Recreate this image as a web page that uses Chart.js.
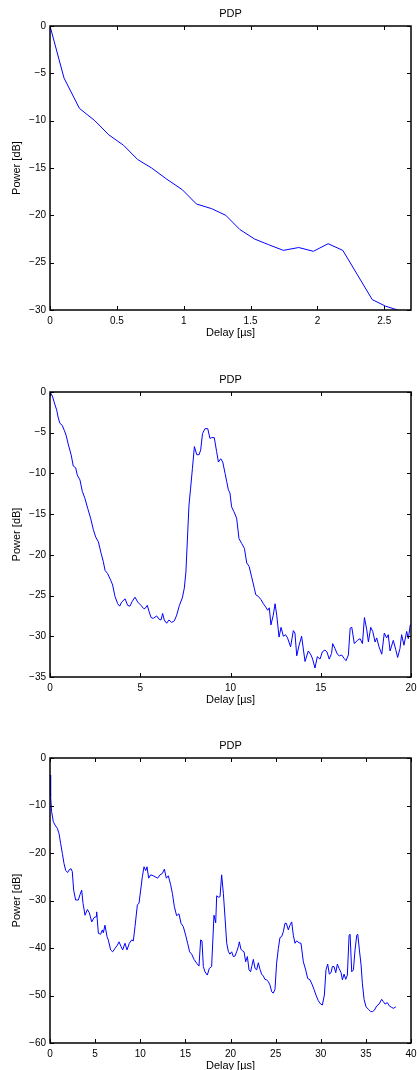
<!DOCTYPE html>
<html>
<head>
<meta charset="utf-8">
<script src="https://cdn.jsdelivr.net/npm/chart.js@4.4.0/dist/chart.umd.min.js"></script>
<style>
  body { margin: 0; background: #fff; width: 417px; height: 1070px; overflow: hidden; position: relative; }
  canvas { position: absolute; left: 0; }
</style>
</head>
<body>
<canvas id="pdp1" width="417" height="343" style="top:0px"></canvas>
<canvas id="pdp2" width="417" height="344" style="top:366px"></canvas>
<canvas id="pdp3" width="417" height="344" style="top:732px"></canvas>
<script>
// chart 1: short delay window
const delay1 = [0, 0.105, 0.22, 0.335, 0.44, 0.55, 0.655, 0.76, 0.865, 0.99, 1.095, 1.21, 1.315, 1.42, 1.53, 1.635, 1.745, 1.86, 1.97, 2.08, 2.19, 2.3, 2.41, 2.51, 2.6]
const power1 = [0, -5.5, -8.7, -10.0, -11.5, -12.6, -14.1, -15.0, -16.1, -17.3, -18.8, -19.3, -20.0, -21.5, -22.5, -23.1, -23.7, -23.4, -23.8, -23.0, -23.7, -26.3, -28.9, -29.6, -30.0]

// chart 2: 0..20 us
const delay2 = [0, 0.13, 0.28, 0.37, 0.46, 0.55, 0.68, 0.79, 0.89, 1.02, 1.17, 1.29, 1.42, 1.51, 1.66, 1.79, 1.94, 2.09, 2.25, 2.4, 2.53, 2.68, 2.83, 2.95, 3.05, 3.19, 3.36, 3.47, 3.6, 3.75, 3.86, 3.97, 4.16, 4.3, 4.43, 4.56, 4.71, 4.86, 5.04, 5.19, 5.26, 5.39, 5.48, 5.6, 5.72, 5.91, 6.04, 6.15, 6.24, 6.33, 6.46, 6.59, 6.74, 6.89, 7.02, 7.17, 7.33, 7.44, 7.53, 7.63, 7.7, 7.79, 7.89, 8.0, 8.13, 8.26, 8.35, 8.45, 8.59, 8.74, 8.86, 8.96, 9.1, 9.23, 9.33, 9.46, 9.57, 9.7, 9.79, 9.88, 9.97, 10.06, 10.19, 10.34, 10.47, 10.62, 10.77, 10.9, 11.03, 11.17, 11.32, 11.4, 11.54, 11.69, 11.82, 11.95, 12.06, 12.15, 12.24, 12.37, 12.47, 12.56, 12.69, 12.8, 12.93, 13.05, 13.16, 13.33, 13.48, 13.57, 13.67, 13.8, 13.94, 14.13, 14.31, 14.46, 14.55, 14.68, 14.81, 14.96, 15.09, 15.23, 15.34, 15.47, 15.6, 15.66, 15.79, 15.92, 16.03, 16.16, 16.29, 16.4, 16.53, 16.63, 16.72, 16.86, 17.03, 17.18, 17.31, 17.42, 17.55, 17.64, 17.77, 17.88, 18.01, 18.1, 18.23, 18.38, 18.52, 18.65, 18.74, 18.84, 19.02, 19.15, 19.26, 19.39, 19.48, 19.61, 19.76, 19.85, 19.96, 20.0]
const power2 = [0, -0.5, -1.6, -2.2, -3.2, -3.85, -4.1, -4.7, -5.3, -6.5, -7.7, -9.1, -9.3, -10.2, -10.8, -12.2, -13.1, -14.3, -15.5, -16.9, -17.8, -18.4, -19.8, -20.8, -21.9, -22.3, -23.1, -23.7, -25.1, -26.0, -26.3, -25.8, -25.4, -26.2, -26.3, -25.7, -25.2, -25.8, -26.2, -26.6, -26.6, -26.2, -26.9, -27.7, -27.8, -27.5, -27.9, -28.0, -27.2, -28.0, -28.4, -28.0, -28.3, -28.1, -27.4, -26.2, -25.3, -24.1, -22.1, -17.2, -13.9, -11.8, -9.4, -6.7, -7.7, -7.7, -7.1, -5.1, -4.5, -4.5, -5.7, -5.6, -5.6, -7.3, -8.6, -8.2, -8.6, -10.0, -11.0, -12.0, -12.4, -14.1, -14.7, -15.5, -18.0, -18.6, -19.2, -21.0, -21.4, -22.7, -24.1, -24.9, -25.1, -25.5, -26.0, -26.4, -26.8, -26.5, -28.6, -27.4, -26.0, -27.4, -30.1, -28.9, -30.0, -29.8, -30.2, -31.3, -29.3, -29.6, -32.4, -31.1, -30.0, -33.1, -31.8, -32.3, -32.8, -33.9, -32.5, -32.8, -31.9, -31.7, -31.9, -32.8, -32.1, -30.9, -31.5, -32.2, -32.4, -32.3, -32.7, -33.0, -32.3, -29.0, -28.9, -30.9, -30.5, -30.3, -30.9, -27.7, -29.2, -30.7, -28.9, -29.4, -30.7, -30.2, -31.3, -32.2, -29.6, -30.2, -29.8, -31.8, -30.5, -31.6, -32.6, -31.5, -29.8, -31.1, -29.4, -30.3, -28.6, -28.6]

// chart 3: 0..40 us
const delay3 = [0, 0.07, 0.18, 0.37, 0.55, 0.81, 1.0, 1.18, 1.37, 1.55, 1.74, 1.96, 2.1, 2.33, 2.47, 2.62, 2.84, 3.14, 3.32, 3.51, 3.66, 3.88, 4.14, 4.36, 4.62, 4.88, 5.1, 5.17, 5.36, 5.61, 5.8, 5.91, 6.09, 6.32, 6.46, 6.72, 6.94, 7.2, 7.46, 7.65, 7.87, 8.05, 8.31, 8.53, 8.79, 9.05, 9.23, 9.42, 9.68, 9.86, 10.05, 10.23, 10.42, 10.6, 10.75, 10.93, 11.15, 11.45, 11.93, 12.19, 12.45, 12.67, 12.89, 13.11, 13.37, 13.56, 13.78, 14.03, 14.29, 14.52, 14.77, 15.03, 15.25, 15.47, 15.7, 15.96, 16.25, 16.51, 16.69, 16.84, 16.99, 17.17, 17.43, 17.65, 17.91, 18.17, 18.36, 18.47, 18.65, 18.84, 19.02, 19.21, 19.39, 19.58, 19.77, 19.94, 20.13, 20.31, 20.5, 20.68, 20.87, 20.98, 21.16, 21.35, 21.5, 21.68, 21.87, 22.05, 22.23, 22.35, 22.53, 22.72, 22.9, 23.08, 23.27, 23.45, 23.64, 23.82, 24.01, 24.19, 24.38, 24.56, 24.74, 24.93, 25.11, 25.3, 25.48, 25.67, 25.85, 26.04, 26.19, 26.41, 26.59, 26.78, 26.96, 27.15, 27.33, 27.59, 27.81, 28.07, 28.33, 28.55, 28.81, 29.07, 29.25, 29.47, 29.73, 29.99, 30.18, 30.4, 30.58, 30.77, 30.95, 31.14, 31.29, 31.47, 31.66, 31.84, 32.03, 32.25, 32.4, 32.58, 32.77, 32.95, 33.14, 33.25, 33.43, 33.62, 33.8, 33.99, 34.1, 34.28, 34.47, 34.61, 34.8, 35.02, 35.28, 35.54, 35.72, 35.94, 36.2, 36.46, 36.75, 36.94, 37.13, 37.38, 37.6, 37.86, 38.05, 38.32]
const power3 = [-3.6, -8.1, -11.3, -13.4, -14.1, -14.8, -15.9, -18.0, -20.1, -22.2, -23.7, -24.1, -23.6, -23.3, -23.9, -27.8, -29.9, -29.9, -28.8, -27.8, -30.6, -33.1, -31.9, -32.6, -34.5, -33.6, -33.4, -32.4, -36.9, -37.1, -36.2, -36.8, -35.2, -37.6, -38.3, -40.4, -40.8, -40.1, -39.4, -38.7, -39.7, -40.4, -39.0, -40.4, -39.0, -38.3, -38.5, -35.5, -30.9, -30.6, -27.8, -25.0, -22.9, -23.7, -22.9, -25.3, -24.6, -24.8, -25.3, -24.6, -24.3, -23.4, -25.3, -24.8, -26.7, -28.5, -31.3, -33.2, -32.8, -34.8, -35.5, -37.3, -39.0, -40.8, -41.3, -42.4, -43.2, -43.8, -38.3, -38.5, -43.9, -45.0, -45.7, -44.3, -43.9, -33.1, -34.7, -29.0, -29.3, -29.2, -24.6, -28.5, -33.5, -39.0, -40.8, -41.3, -40.8, -41.8, -41.7, -40.8, -39.7, -38.7, -40.3, -40.6, -40.8, -42.9, -41.8, -44.6, -45.0, -43.9, -42.4, -44.3, -44.6, -43.1, -44.5, -45.5, -45.9, -46.6, -46.7, -47.1, -47.8, -49.2, -49.5, -48.7, -43.2, -40.1, -37.8, -37.6, -36.6, -34.8, -34.8, -36.2, -35.2, -34.5, -37.3, -39.0, -38.5, -38.9, -39.0, -42.9, -44.6, -46.4, -46.7, -47.8, -48.7, -49.9, -51.1, -51.8, -52.0, -49.9, -44.6, -43.4, -45.5, -45.2, -43.9, -43.9, -45.2, -43.4, -44.3, -45.2, -46.7, -45.5, -46.6, -45.7, -37.3, -37.1, -45.0, -44.6, -40.4, -37.3, -37.1, -40.4, -43.6, -47.4, -50.8, -52.4, -52.9, -53.4, -53.4, -53.1, -52.2, -51.8, -50.8, -51.3, -51.8, -51.5, -52.2, -52.5, -52.7, -52.4]

const FONT = { family: '"Liberation Sans", Helvetica, Arial, sans-serif', size: 10 }
const LABEL_FONT = { family: '"Liberation Sans", Helvetica, Arial, sans-serif', size: 11 }

function fmt(v) {
    const s = String(Math.round(Math.abs(v) * 10) / 10)
    return v < 0 ? '\u2212' + s : s
}

// matlab style box with inward ticks on all four sides
const boxPlugin = {
    id: 'matlabBox',
    afterDraw(chart) {
        const { ctx, chartArea: a, scales } = chart
        ctx.save()
        ctx.strokeStyle = '#000'
        ctx.lineWidth = 1
        ctx.beginPath()
        scales.x.ticks.forEach(t => {
            const px = Math.round(scales.x.getPixelForValue(t.value)) + 0.5
            ctx.moveTo(px, a.bottom); ctx.lineTo(px, a.bottom - 4)
            ctx.moveTo(px, a.top); ctx.lineTo(px, a.top + 4)
        })
        scales.y.ticks.forEach(t => {
            const py = Math.round(scales.y.getPixelForValue(t.value)) + 0.5
            ctx.moveTo(a.left, py); ctx.lineTo(a.left + 4, py)
            ctx.moveTo(a.right, py); ctx.lineTo(a.right - 4, py)
        })
        ctx.stroke()
        ctx.lineWidth = 1.5
        ctx.strokeRect(a.left, a.top, a.right - a.left, a.bottom - a.top)
        ctx.restore()
    }
}

function makeChart(id, xs, ys, xMax, xStep, yMin, yStep) {
    new Chart(document.getElementById(id).getContext('2d'), {
        type: 'scatter',
        data: {
            datasets: [{
                data: xs.map((x, i) => ({ x: x, y: ys[i] })),
                showLine: true,
                borderColor: '#0000ff',
                borderWidth: 1,
                pointRadius: 0,
                tension: 0
            }]
        },
        options: {
            responsive: false,
            animation: false,
            layout: { padding: { left: 7, right: 6, top: 0, bottom: 0 } },
            plugins: {
                legend: { display: false },
                tooltip: { enabled: false },
                title: {
                    display: true,
                    text: 'PDP',
                    color: '#000',
                    font: { ...LABEL_FONT, weight: 'normal' },
                    fullSize: false,
                    padding: { top: 7, bottom: 5.8 }
                }
            },
            scales: {
                x: {
                    type: 'linear',
                    min: 0,
                    max: xMax,
                    grid: { display: false, drawTicks: false },
                    border: { display: false },
                    ticks: { stepSize: xStep, includeBounds: false, color: '#000', font: FONT, padding: 5, maxRotation: 0, callback: fmt },
                    title: { display: true, text: 'Delay [µs]', color: '#000', font: LABEL_FONT, padding: { top: 3, bottom: 3.5 } },
                    afterFit(s) { s.height = 33; s.paddingLeft = 0; s.paddingRight = 0 }
                },
                y: {
                    type: 'linear',
                    min: yMin,
                    max: 0,
                    grid: { display: false, drawTicks: false },
                    border: { display: false },
                    ticks: { stepSize: yStep, color: '#000', font: FONT, padding: 4, callback: fmt },
                    title: { display: true, text: 'Power [dB]', color: '#000', font: LABEL_FONT, padding: { top: 3, bottom: 3 } },
                    afterFit(s) { s.width = 43; s.paddingTop = 0; s.paddingBottom = 0 }
                }
            }
        },
        plugins: [boxPlugin]
    })
}

makeChart('pdp1', delay1, power1, 2.7, 0.5, -30, 5)
makeChart('pdp2', delay2, power2, 20, 5, -35, 5)
makeChart('pdp3', delay3, power3, 40, 5, -60, 10)
</script>
</body>
</html>
